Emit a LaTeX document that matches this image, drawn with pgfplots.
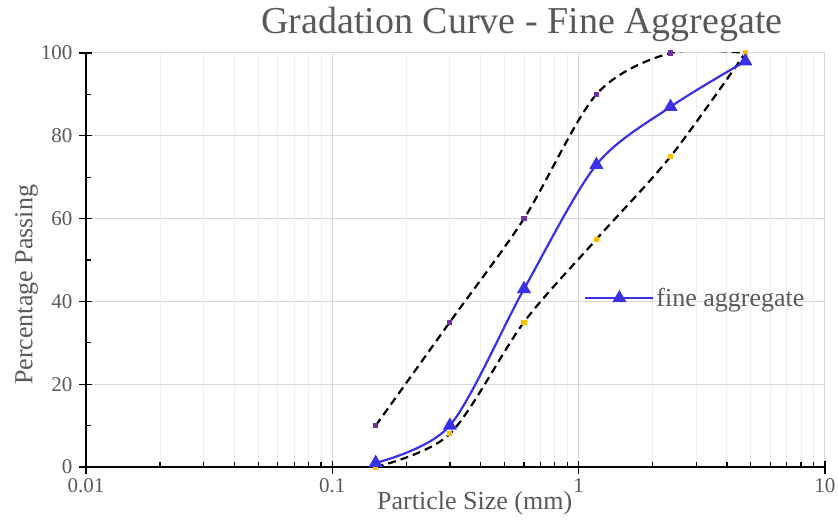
\documentclass[border=0pt]{standalone}
\usepackage{fontspec}
\setmainfont{Liberation Serif}
\usepackage{pgfplots}
\pgfplotsset{compat=1.18}

\definecolor{txt}{HTML}{595959}
\definecolor{gridmaj}{HTML}{D9D9D9}
\definecolor{gridmin}{HTML}{F0F0F0}
\definecolor{fineblue}{HTML}{3A30E8}
\definecolor{upperpt}{HTML}{7030A0}
\definecolor{lowerpt}{HTML}{FFC000}

\begin{document}
\begin{tikzpicture}
\begin{axis}[
    name=ax,
    scale only axis,
    width=739pt, height=414pt,
    xmode=log,
    xmin=0.01, xmax=10,
    ymin=0, ymax=100,
    xtick={0.01,0.1,1,10},
    xticklabels={0.01,0.1,1,10},
    ytick={0,20,40,60,80,100},
    minor ytick={10,30,50,70,90},
    axis x line*=bottom,
    axis y line*=left,
    axis line style={black, line width=1.5pt, -},
    tick align=inside,
    major tick length=13pt,
    minor tick length=5pt,
    tick style={black, line width=1.3pt},
    every major x tick/.append style={yshift=-6.5pt},
    every major y tick/.append style={xshift=-6.5pt},
    xmajorgrids=true, xminorgrids=true, ymajorgrids=true,
    major grid style={gridmaj, line width=1pt},
    minor grid style={gridmin, line width=1pt},
    /pgf/number format/assume math mode=true,
    ticklabel style={font=\fontsize{21}{24}\selectfont, text=txt},
    xticklabel style={yshift=-8pt},
    yticklabel style={xshift=-10pt},
    title={Gradation Curve - Fine Aggregate},
    title style={font=\fontsize{38}{40}\selectfont, text=txt, at={(0.59,1)}, anchor=south, yshift=2pt},
    xlabel={Particle Size (mm)},
    xlabel style={font=\fontsize{26}{28}\selectfont, text=txt, at={(ticklabel cs:0.526)}, yshift=8pt},
    ylabel={Percentage Passing},
    ylabel style={font=\fontsize{26}{28}\selectfont, text=txt, at={(ticklabel cs:0.44)}, yshift=-4pt},
    legend style={draw=none, fill=none, at={(0.674,0.408)}, anchor=west,
        font=\fontsize{26}{28}\selectfont, text=txt, inner sep=0pt},
    legend image code/.code={
        \draw[mark repeat=2, mark phase=2, #1] plot coordinates {(0pt,0pt) (34pt,0pt) (68pt,0pt)};
    },
    clip mode=individual,
]
% upper limit
\addplot[black, line width=2.2pt, dash pattern=on 8pt off 5pt, smooth,
    mark=square*, mark size=1.5pt, mark options={solid, draw=upperpt, fill=upperpt},
    forget plot] coordinates {
    (0.15,10) (0.3,35) (0.6,60) (1.18,90) (2.36,100) (4.75,100)
};
% lower limit
\addplot[black, line width=2.2pt, dash pattern=on 8pt off 5pt, smooth,
    mark=square*, mark size=1.5pt, mark options={solid, draw=lowerpt, fill=lowerpt},
    forget plot] coordinates {
    (0.15,0) (0.3,8) (0.6,35) (1.18,55) (2.36,75) (4.75,100)
};
% fine aggregate
\addplot[fineblue, line width=2.2pt, smooth,
    mark=triangle*, mark size=6pt, mark options={fill=fineblue, draw=fineblue}] coordinates {
    (0.15,1) (0.3,10) (0.6,43) (1.18,73) (2.36,87) (4.75,98)
};
\addlegendentry{fine aggregate}
\end{axis}
\pgfresetboundingbox
\path (ax.south west) ++(-86pt,-61pt) coordinate (bl);
\path (ax.north east) ++(13pt,53pt) coordinate (tr);
\path[use as bounding box] (bl) rectangle (tr);
\end{tikzpicture}
\end{document}
